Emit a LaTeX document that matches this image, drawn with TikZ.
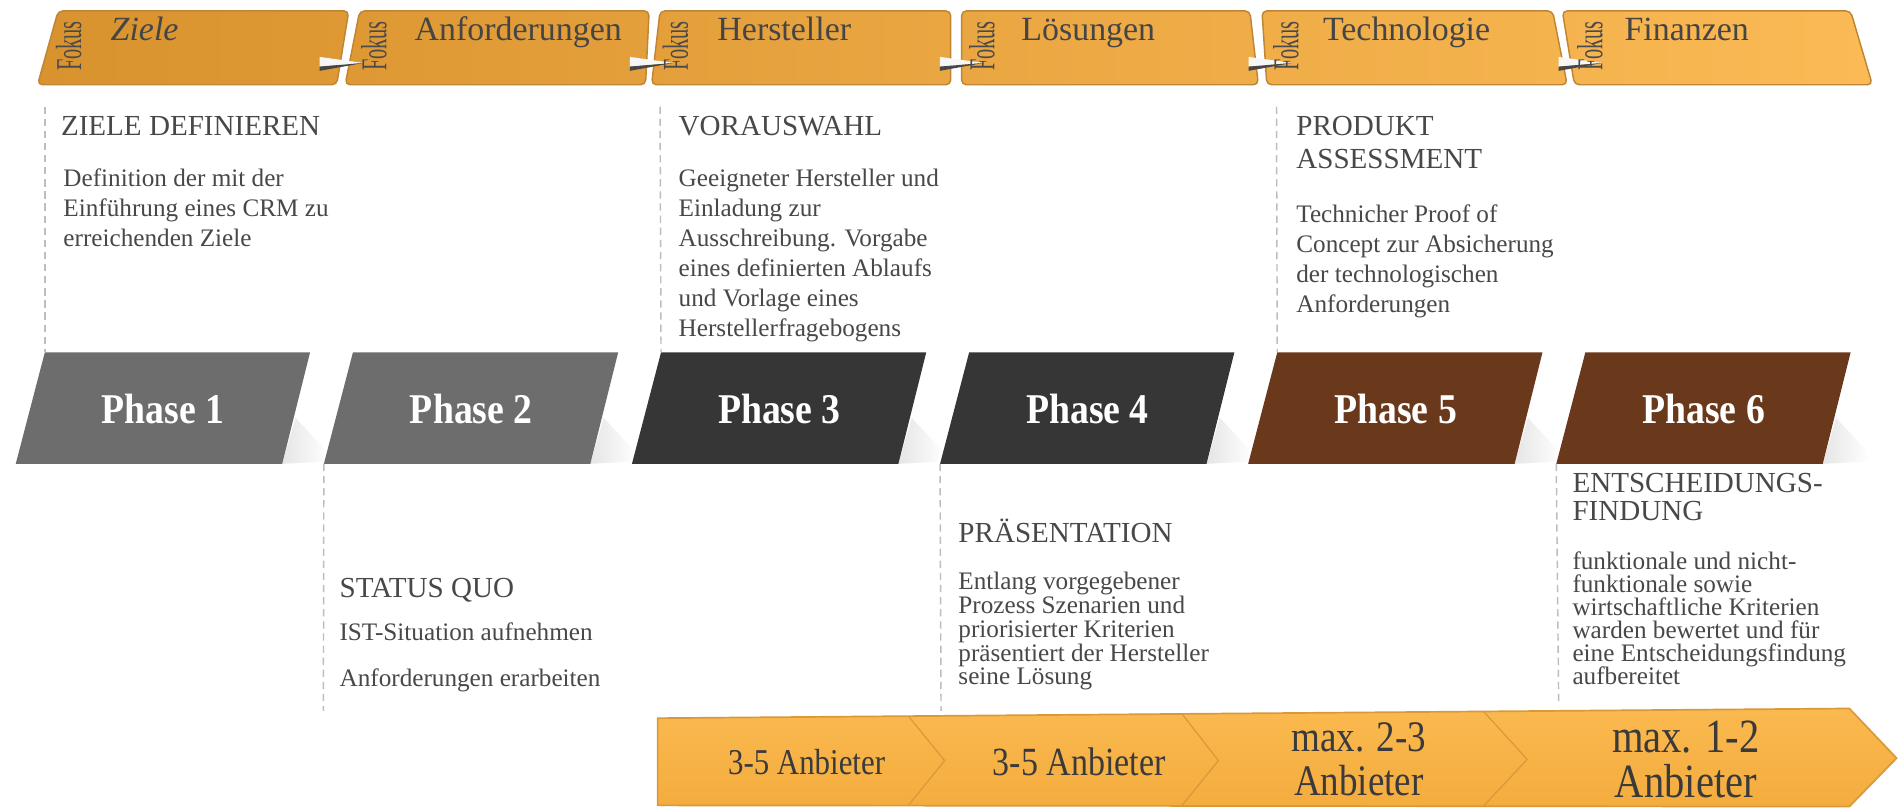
\documentclass[tikz,border=0pt]{standalone}
\usepackage{fontspec}
\setmainfont{Liberation Serif}
\newfontfamily\fokusfont[FakeStretch=0.56]{Liberation Serif}
\newfontfamily\condfont[FakeStretch=0.85]{Liberation Serif}
\newfontfamily\phasefont[FakeStretch=0.89]{Liberation Serif}
\usetikzlibrary{calc}
\definecolor{oL}{HTML}{D8922E}
\definecolor{oR}{HTML}{FBBA55}
\definecolor{bannerborder}{HTML}{C08533}
\definecolor{titlegray}{HTML}{454545}
\definecolor{fokusgray}{HTML}{4A4A4A}
\definecolor{textgray}{HTML}{484848}
\definecolor{guidegray}{HTML}{BDBDBD}
\definecolor{phgray}{HTML}{6D6D6D}
\definecolor{phdark}{HTML}{363636}
\definecolor{phbrown}{HTML}{6A391B}
\definecolor{bandtop}{HTML}{FAB94F}
\definecolor{bandbot}{HTML}{F4AC3E}
\definecolor{bandborder}{HTML}{D9993A}
\definecolor{bandtext}{HTML}{3A3A3A}
\tikzset{
  bannerbox/.style={draw=bannerborder, line width=0.6pt, rounded corners=2pt},
  fokus/.style={font=\fokusfont\fontsize{15}{15}\selectfont, text=fokusgray, rotate=90, anchor=base west, inner sep=0pt},
  btitle/.style={font=\fontsize{14}{15}\selectfont, text=titlegray, anchor=base west, inner sep=0pt},
  pointer/.style={fill=white!94!gray},
  pointershade/.style={fill=gray!55!black},
  phasetext/.style={font=\phasefont\bfseries\fontsize{17.5}{18}\selectfont, text=white, inner sep=0pt},
  ttl/.style={font=\fontsize{12}{13}\selectfont, text=textgray, anchor=base west, inner sep=0pt},
  body/.style={font=\fontsize{10.4}{12}\selectfont, text=textgray, anchor=base west, inner sep=0pt},
  guide/.style={draw=guidegray, line width=0.6pt, dash pattern=on 3pt off 2pt},
  divider/.style={draw=bandborder, line width=0.5pt},
  bandtxt/.style={font=\condfont\fontsize{#1}{18.5}\selectfont, text=bandtext, align=center, inner sep=0pt},
}
\begin{document}
\begin{tikzpicture}[x=0.5pt,y=-0.5pt]
\useasboundingbox (0,0) rectangle (1568,667);
\fill[white] (0,0) rectangle (1568,667);

% ---------- top Fokus banners ----------
\shade[bannerbox, left color=oL, right color=oR!17!oL] (48,9) -- (288,9) -- (278,70) -- (31,70) -- cycle;
\shade[bannerbox, left color=oR!17!oL, right color=oR!33!oL] (297,9) -- (536,9) -- (533,70) -- (285,70) -- cycle;
\shade[bannerbox, left color=oR!33!oL, right color=oR!50!oL] (545,9) -- (785,9) -- (785,70) -- (538,70) -- cycle;
\shade[bannerbox, left color=oR!50!oL, right color=oR!67!oL] (794,9) -- (1032,9) -- (1039,70) -- (794,70) -- cycle;
\shade[bannerbox, left color=oR!67!oL, right color=oR!83!oL] (1042,9) -- (1282,9) -- (1294,70) -- (1046,70) -- cycle;
\shade[bannerbox, left color=oR!83!oL, right color=oR] (1290,9) -- (1528,9) -- (1546,70) -- (1300,70) -- cycle;

\foreach \b in {264,520,776,1031,1287}{
  \fill[pointer] (\b,47) -- ({\b+36},52) -- (\b,55) -- cycle;
  \fill[pointershade] (\b,55) -- ({\b+36},52) -- (\b,58.5) -- cycle;
}

\foreach \x [count=\i] in {67,319,568,821,1072,1323}
  \node[fokus] (fk\i) at (\x,59) {Fokus};

\node[btitle] (bt1) at (91,33.5) {\itshape Ziele};
\node[btitle] (bt2) at (342,33.5) {Anforderungen};
\node[btitle] (bt3) at (592,33.5) {Hersteller};
\node[btitle] (bt4) at (843,33.5) {Lösungen};
\node[btitle] (bt5) at (1092,33.5) {Technologie};
\node[btitle] (bt6) at (1341,33.5) {Finanzen};

% ---------- phases ----------
\foreach \i/\col in {1/phgray,2/phgray,3/phdark,4/phdark,5/phbrown,6/phbrown}{
  \pgfmathsetmacro\tl{37+254.4*(\i-1)}
  \coordinate (p\i tl) at (\tl,291);
  \coordinate (p\i bl) at ({\tl-24},383);
  \shade[left color=black!22, right color=white, opacity=0.45]
    ({\tl+196},383) -- ({\tl+207},345) -- ({\tl+234},374) -- ({\tl+234},381) -- cycle;
  \fill[\col] (\tl,291) -- ({\tl+219},291) -- ({\tl+196},383) -- ({\tl-24},383) -- cycle;
  \node[phasetext] (ph\i) at ({\tl+97.75},338) {Phase \i};
}

% ---------- guides ----------
\coordinate (g1) at (37,88);
\coordinate (g3) at (545,88);
\coordinate (g5) at (1054,88);
\coordinate (g2) at (267,587);
\coordinate (g4) at (777,587);
\coordinate (g6) at (1287,583);
\draw[guide] (g1) -- (p1tl);
\draw[guide] (g3) -- (p3tl);
\draw[guide] (g5) -- (p5tl);
\draw[guide] (p2bl) -- (g2);
\draw[guide] (p4bl) -- (g4);
\draw[guide] (p6bl) -- (g6);

% ---------- texts above ----------
\node[ttl] (h1) at (50,112) {ZIELE DEFINIEREN};
\foreach \t [count=\k from 0] in {Definition der mit der, Einführung eines CRM zu, erreichenden Ziele}
  \node[body] (t1l\k) at (52,{154+24.8*\k}) {\t};

\node[ttl] (h3) at (560,112) {VORAUSWAHL};
\foreach \t [count=\k from 0] in {Geeigneter Hersteller und, Einladung zur, Ausschreibung. Vorgabe, eines definierten Ablaufs, und Vorlage eines, Herstellerfragebogens}
  \node[body] (t3l\k) at (560,{154+24.8*\k}) {\t};

\node[ttl] (h5a) at (1070,112) {PRODUKT};
\node[ttl] (h5b) at (1070,139) {ASSESSMENT};
\foreach \t [count=\k from 0] in {Technicher Proof of, Concept zur Absicherung, der technologischen, Anforderungen}
  \node[body] (t5l\k) at (1070,{184+24.7*\k}) {\t};

% ---------- texts below ----------
\node[ttl] (h2) at (280,493) {STATUS QUO};
\node[body] (t2l0) at (280,529) {IST-Situation aufnehmen};
\node[body] (t2l1) at (280,567) {Anforderungen erarbeiten};

\node[ttl] (h4) at (791,448) {PRÄSENTATION};
\foreach \t [count=\k from 0] in {Entlang vorgegebener, Prozess Szenarien und, priorisierter Kriterien, präsentiert der Hersteller, seine Lösung}
  \node[body] (t4l\k) at (791,{487+19.6*\k}) {\t};

\node[ttl] (h6a) at (1298,407) {ENTSCHEIDUNGS-};
\node[ttl] (h6b) at (1298,430) {FINDUNG};
\foreach \t [count=\k from 0] in {funktionale und nicht-, funktionale sowie, wirtschaftliche Kriterien, warden bewertet und für, eine Entscheidungsfindung, aufbereitet}
  \node[body] (t6l\k) at (1298,{470+19*\k}) {\t};

% ---------- bottom band ----------
\shade[top color=bandtop, bottom color=bandbot, draw=bandborder, line width=0.7pt]
  (543,593) -- (1527,585) -- (1566,626) -- (1527,666) -- (543,665) -- cycle;
\draw[divider] (750,591.3) -- (780,628) -- (750,665);
\draw[divider] (976,589.5) -- (1006,628) -- (976,665);
\draw[divider] (1225,587.5) -- (1261,627) -- (1225,665.5);

\node[bandtxt=15] (b1) at (666,629) {3-5 Anbieter};
\node[bandtxt=16.5] (b2) at (891,629) {3-5 Anbieter};
\node[bandtxt=18] (b3) at (1122,627) {max. 2-3\\Anbieter};
\node[bandtxt=19.7] (b4) at (1392,627) {max. 1-2\\Anbieter};
\end{tikzpicture}
\end{document}
